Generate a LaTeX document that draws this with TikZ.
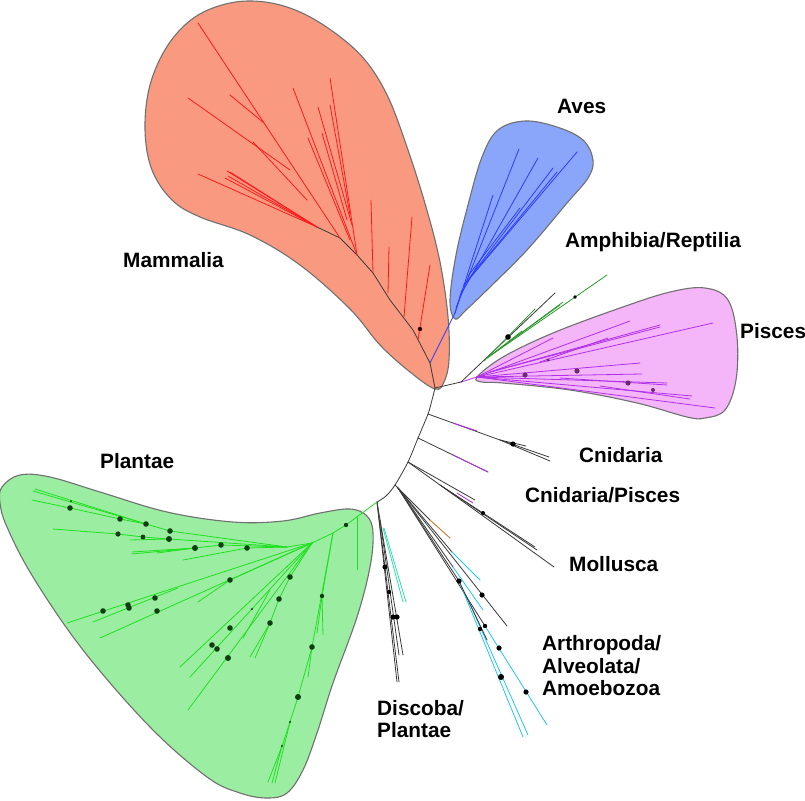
\documentclass[tikz,border=0pt]{standalone}
\usepackage{fontspec}
\setmainfont{Liberation Sans}
\definecolor{edgeC}{HTML}{707070}
\definecolor{bbc}{HTML}{3A3A3A}
\definecolor{mamF}{HTML}{F99A80}
\definecolor{aveF}{HTML}{8AA6FA}
\definecolor{pisF}{HTML}{F5B5F9}
\definecolor{plaF}{HTML}{9BEEA1}
\definecolor{redL}{HTML}{FF1A1A}
\definecolor{blueL}{HTML}{2A3CFF}
\definecolor{purL}{HTML}{B030E8}
\definecolor{ampG}{HTML}{2E9A2E}
\definecolor{plaG}{HTML}{1EE01E}
\definecolor{cyanL}{HTML}{1EC8F0}
\definecolor{tealL}{HTML}{2EDDB0}
\definecolor{oraL}{HTML}{D07A2A}
\definecolor{dotG}{HTML}{0E3E12}
\definecolor{dotP}{HTML}{6A2A70}
\tikzset{
  blob/.style={draw=edgeC, line width=1.1pt},
  bb/.style={draw=bbc, line width=0.8pt},
  mam/.style={draw=redL, line width=0.8pt},
  ave/.style={draw=blueL, line width=0.8pt},
  pis/.style={draw=purL, line width=0.8pt},
  amp/.style={draw=ampG, line width=0.8pt},
  pla/.style={draw=plaG, line width=0.8pt},
  art/.style={draw=cyanL, line width=0.8pt},
  dis/.style={draw=tealL, line width=0.8pt},
  mol/.style={draw=oraL, line width=0.9pt},
  lab/.style={font=\bfseries\fontsize{20.8}{22.5}\selectfont, inner sep=0pt, text=black, align=left}
}
\begin{document}
\begin{tikzpicture}[x=1pt,y=-1pt,line join=round,line cap=round]
\useasboundingbox[fill=white] (0,0) rectangle (805,800);

% ---------- blobs ----------
\draw[blob, fill=mamF] plot[smooth cycle, tension=0.6] coordinates {
 (435,389) (410,372) (380,345) (350,309) (300,265) (250,235) (200,217) (172,200)
 (152,170) (145,130) (150,85) (168,45) (195,17) (230,3) (265,2) (300,12) (335,33)
 (365,60) (388,97) (408,150) (426,207) (440,262) (448,317) (449,360) (444,382)};
\draw[blob, fill=aveF] plot[smooth cycle, tension=0.6] coordinates {
 (455,319) (450,300) (456,255) (468,205) (482,157) (498,130) (525,121) (557,127)
 (583,140) (593,160) (588,178) (567,203) (527,250) (487,290) (466,310)};
\draw[blob, fill=pisF] plot[smooth cycle, tension=0.6] coordinates {
 (477,377) (503,357) (553,333) (620,308) (670,292) (705,288) (728,300) (737,337)
 (736,380) (725,410) (705,418) (687,417) (637,403) (570,390) (503,383) (482,382)};
\draw[blob, fill=plaF] plot[smooth cycle, tension=0.6] coordinates {
 (2,487) (20,475) (50,477) (100,492) (167,512) (233,522) (283,521) (320,513)
 (350,509) (367,516) (373,533) (370,567) (357,617) (333,683) (317,733) (303,770)
 (287,793) (267,798) (240,793) (207,777) (150,727) (83,650) (33,577) (7,527) (0,503)};

% ---------- backbone ----------
\draw[bb] plot[smooth] coordinates {(435,388) (432,400) (428,414) (418,438) (408,462) (395,485) (386,496) (377,502)};

% ---------- Mammalia ----------
\draw[bb] (435,388) -- (430,363) -- (413,330) -- (390,300) -- (373,273) -- (357,255) -- (340,238) -- (317,227);
\draw[mam] (418,340) -- (430,265);
\draw[mam] (404,317) -- (412,217);
\draw[mam] (388,293) -- (389,247);
\draw[mam] (373,273) -- (371,200);
\draw[mam] (357,255) -- (330,78);
\draw[mam] (352,225) -- (318,107);
\draw[mam] (350,215) -- (330,105);
\draw[mam] (347,220) -- (322,133);
\draw[mam] (350,240) -- (308,138);
\draw[mam] (357,255) -- (293,88);
\draw[mam] (340,238) -- (198,23);
\draw[mam] (290,170) -- (188,98);
\draw[mam] (264,123) -- (230,95);
\draw[mam] (307,200) -- (253,142);
\draw[mam] (317,227) -- (198,174);
\draw[mam] (317,227) -- (227,171);
\draw[mam] (317,227) -- (228,176);
\draw[mam] (317,227) -- (225,178);
\draw[mam] (317,227) -- (230,172);
\fill[black!80!red] (420,329) circle (2.2);

% ---------- Aves ----------
\draw[ave] (430,363) -- (455,313);
\draw[ave] (455,313) -- (493,195);
\draw[ave] (456,308) -- (519,149);
\draw[ave] (460,296) -- (538,158);
\draw[ave] (464,285) -- (553,168);
\draw[ave] (464,285) -- (557,172);
\draw[ave] (464,285) -- (577,152);
\draw[ave] (468,276) -- (520,208);
\draw[ave] (455,313) -- (462,290);

% ---------- Amphibia / Pisces stem ----------
\draw[bb] (435,388) -- (461,382);
\draw[pis] (461,382) -- (477,377);
\draw[bb] (461,382) -- (555,293);
\draw[amp] (484,361) -- (535,309);
\draw[amp] (487,358) -- (563,302);
\draw[amp] (487,358) -- (560,305);
\draw[amp] (487,358) -- (607,275);
\draw[amp] (495,352) -- (522,331);
\fill[black] (508,337) circle (2.8);
\fill[black] (575,297) circle (1.8);

% ---------- Pisces ----------
\draw[pis] (477,377) -- (553,338);
\draw[pis] (477,377) -- (630,321);
\draw[pis] (490,372) -- (660,325);
\draw[pis] (490,372) -- (660,327);
\draw[pis] (477,377) -- (713,323);
\draw[pis] (540,362) -- (608,338);
\draw[pis] (477,377) -- (640,363);
\draw[pis] (477,377) -- (642,374);
\draw[pis] (477,377) -- (667,383);
\draw[pis] (560,378) -- (667,385);
\draw[pis] (477,377) -- (692,396);
\draw[pis] (600,386) -- (690,399);
\draw[pis] (477,377) -- (715,408);
\foreach \x/\y/\r in {548/360/1.6, 577/371/2.6, 525/375/2.6, 628/383/2.6, 653/390/2.0}
  \fill[dotP] (\x,\y) circle (\r);

% ---------- Cnidaria branches ----------
\draw[bb] (428,414) -- (500,440) -- (550,461);
\draw[bb] (500,440) -- (549,457);
\draw[bb] (500,440) -- (526,446);
\draw[pis] (453,423) -- (477,431);
\fill[black] (513,444) circle (2.6);
\draw[bb] (418,438) -- (488,472);
\draw[pis] (453,455) -- (488,472);
\draw[bb] (408,462) -- (475,500);
\draw[bb] (408,462) -- (554,567);
\draw[bb] (440,485) -- (537,550);
\draw[bb] (440,485) -- (535,547);
\draw[pis] (457,493) -- (473,503);
\fill[black] (483,513) circle (2.0);

% ---------- Mollusca / Arthropoda ----------
\draw[bb] (395,485) -- (398,488);
\draw[bb] (398,488) -- (430,520);
\draw[mol] (430,520) -- (450,538);
\draw[bb] (398,488) -- (507,626);
\draw[bb] (398,488) -- (452,552);
\draw[art] (452,552) -- (480,580);
\draw[bb] (398,488) -- (453,567);
\draw[art] (453,567) -- (483,610);
\draw[bb] (398,488) -- (485,626);
\draw[art] (485,626) -- (547,725);
\draw[bb] (398,488) -- (459,581);
\draw[art] (459,581) -- (523,737);
\draw[art] (466,595) -- (528,735);
\draw[bb] (459,581) -- (487,640);
\foreach \x/\y/\r in {482/595/2.6, 459/581/2.6, 480/629/2.2, 485/626/2.2, 499/648/2.6, 501/677/3.0, 526/692/2.6}
  \fill[black] (\x,\y) circle (\r);

% ---------- Discoba / Plantae ----------
\draw[bb] (377,502) -- (397,682);
\draw[bb] (377,502) -- (399,682);
\draw[bb] (377,502) -- (403,655);
\draw[bb] (380,520) -- (399,655);
\draw[dis] (383,528) -- (403,602);
\draw[dis] (384,528) -- (406,602);
\foreach \x/\y/\r in {385/567/2.6, 389/592/2.2, 393/617/2.6, 397/617/2.6}
  \fill[black] (\x,\y) circle (\r);

% ---------- Plantae ----------
\draw[pla] (377,502) -- (346,525) -- (333,533) -- (312,543) -- (287,547);
\draw[pla] (357,517) -- (357,570);
\draw[pla] (333,533) -- (322,596) -- (323,635);
\draw[pla] (322,596) -- (317,633);
\draw[pla] (333,533) -- (312,647) -- (298,697) -- (290,722) -- (282,746) -- (268,782);
\draw[pla] (282,746) -- (272,783);
\draw[pla] (290,722) -- (275,783);
\draw[pla] (312,647) -- (308,677);
\draw[pla] (312,543) -- (290,577) -- (279,599) -- (270,623) -- (250,657);
\draw[pla] (270,623) -- (255,658);
\draw[pla] (312,543) -- (230,580) -- (198,602);
\draw[pla] (312,543) -- (67,623);
\draw[pla] (312,543) -- (100,638);
\draw[pla] (178,588) -- (93,622);
\draw[pla] (312,543) -- (188,710);
\draw[pla] (312,543) -- (180,667);
\draw[pla] (312,543) -- (190,677);
\draw[pla] (270,590) -- (243,638);
\draw[pla] (287,547) -- (247,548) -- (183,560);
\draw[pla] (287,547) -- (221,545) -- (195,548) -- (157,553);
\draw[pla] (195,548) -- (132,552);
\draw[pla] (195,548) -- (132,554);
\draw[pla] (287,547) -- (170,531) -- (146,524) -- (120,519) -- (70,508) -- (32,500);
\draw[pla] (146,524) -- (35,489);
\draw[pla] (146,524) -- (33,491);
\draw[pla] (287,547) -- (169,539) -- (143,537) -- (118,534) -- (53,529);
\draw[pla] (169,539) -- (130,540);
\foreach \x/\y/\r in {346/525/2.2, 322/596/2.2, 312/647/2.8, 298/697/3.0, 290/722/1.2, 282/746/1.2,
  290/577/2.8, 279/599/2.8, 270/623/2.8, 230/580/2.8, 155/598/2.8, 128/605/2.8, 129/608/2.8,
  103/611/2.8, 157/611/2.8, 230/628/2.8, 212/645/2.8, 217/649/2.8, 228/658/3.0, 252/609/1.2,
  247/548/2.8, 221/545/2.8, 195/548/3.0, 170/531/2.8, 146/524/2.8, 120/519/2.8, 70/508/2.8,
  169/539/3.0, 143/537/2.4, 118/534/2.6, 71/501/1.0}
  \fill[dotG] (\x,\y) circle (\r);

% ---------- labels ----------
\node[lab, anchor=base west] (lMam) at (123,267) {Mammalia};
\node[lab, anchor=base west] (lAve) at (557,113) {Aves};
\node[lab, anchor=base west] (lAmp) at (565,247) {Amphibia/Reptilia};
\node[lab, anchor=base west] (lPis) at (740,338) {Pisces};
\node[lab, anchor=base west] (lPla) at (100,468) {Plantae};
\node[lab, anchor=base west] (lCni) at (579,462) {Cnidaria};
\node[lab, anchor=base west] (lCnP) at (525,502) {Cnidaria/Pisces};
\node[lab, anchor=base west] (lMol) at (569,571) {Mollusca};
\node[lab, anchor=base west] (lArt1) at (542,650) {Arthropoda/};
\node[lab, anchor=base west] (lArt2) at (542,673) {Alveolata/};
\node[lab, anchor=base west] (lArt3) at (542,695) {Amoebozoa};
\node[lab, anchor=base west] (lDis1) at (377,715) {Discoba/};
\node[lab, anchor=base west] (lDis2) at (377,737) {Plantae};
\end{tikzpicture}
\end{document}
